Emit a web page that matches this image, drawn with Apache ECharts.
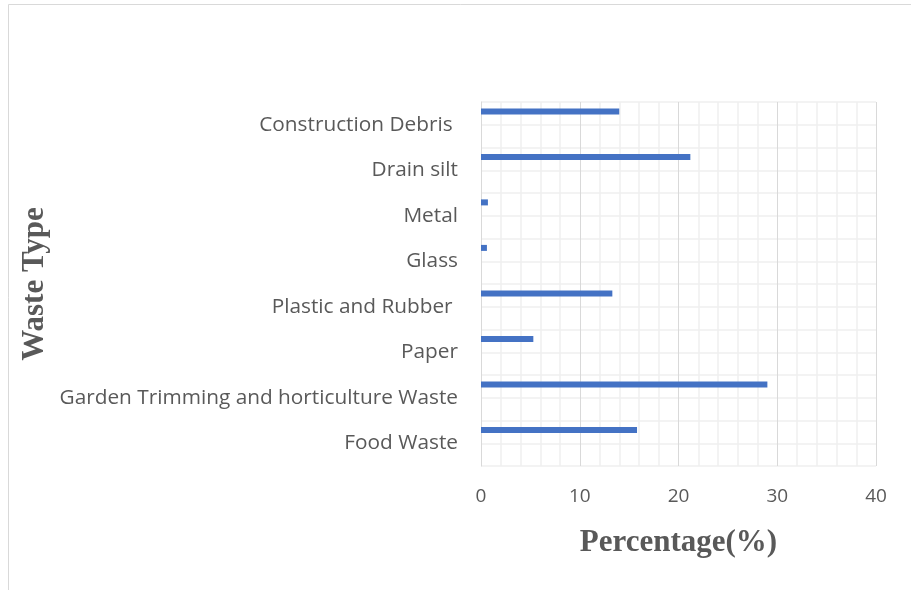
<!DOCTYPE html>
<html><head><meta charset="utf-8">
<script src="https://cdn.jsdelivr.net/npm/echarts@6/dist/echarts.min.js"></script>
<style>html,body{margin:0;padding:0;background:#fff}#c{width:911px;height:590px}</style>
</head><body><div id="c"></div>
<script>
const categories = ["Food Waste","Garden Trimming and horticulture Waste","Paper","Plastic and Rubber ","Glass","Metal","Drain silt","Construction Debris "];
const percentages = [15.8, 29.0, 5.3, 13.3, 0.6, 0.7, 21.2, 14.0];
const xTicks = [0, 10, 20, 30, 40];

const chart = echarts.init(document.getElementById('c'), null, {renderer:'canvas'});
chart.setOption({
  animation:false,
  backgroundColor:'#fff',
  graphic:[{type:'rect', shape:{x:8.5,y:4.5,width:940,height:620}, style:{fill:'none',stroke:'#d9d9d9',lineWidth:1}, z:-10}],
  grid:{left:481, right:35, top:102, bottom:124, containLabel:false},
  xAxis:{type:'value', min:xTicks[0], max:xTicks[xTicks.length-1], interval:10,
    name:'Percentage(%)', nameLocation:'middle', nameGap:61,
    nameTextStyle:{fontFamily:'Liberation Serif', fontWeight:'bold', fontSize:31, color:'#595959'},
    axisLine:{show:false}, axisTick:{show:false},
    axisLabel:{fontFamily:'Open Sans', fontSize:19, color:'#595959', margin:21},
    splitLine:{show:true, lineStyle:{color:'#d9d9d9', width:1}},
    minorTick:{show:false, splitNumber:5},
    minorSplitLine:{show:true, lineStyle:{color:'#efefef', width:1.5}}
  },
  yAxis:[{type:'category', data:categories,
    name:'Waste Type', nameLocation:'middle', nameGap:431, nameRotate:90,
    nameTextStyle:{fontFamily:'Liberation Serif', fontWeight:'bold', fontSize:31, color:'#595959'},
    axisLine:{show:true, lineStyle:{color:'#d9d9d9'}}, axisTick:{show:false},
    axisLabel:{fontFamily:'Open Sans', fontSize:20.8, color:'#595959', margin:23},
    splitLine:{show:false}
  },{type:'value', min:0, max:16, interval:1, position:'right', show:true,
    axisLine:{show:false}, axisTick:{show:false}, axisLabel:{show:false},
    splitLine:{show:true, lineStyle:{color:'#efefef', width:1.5}}
  }],
  series:[
    {type:'bar', yAxisIndex:0, data:percentages, barWidth:6, barGap:'345%', itemStyle:{color:'#4472C4'}, z:3},
    {type:'bar', yAxisIndex:0, data:percentages.map(()=>null), barWidth:6, itemStyle:{color:'#ED7D31'}, z:3}
  ]
});
</script></body></html>
